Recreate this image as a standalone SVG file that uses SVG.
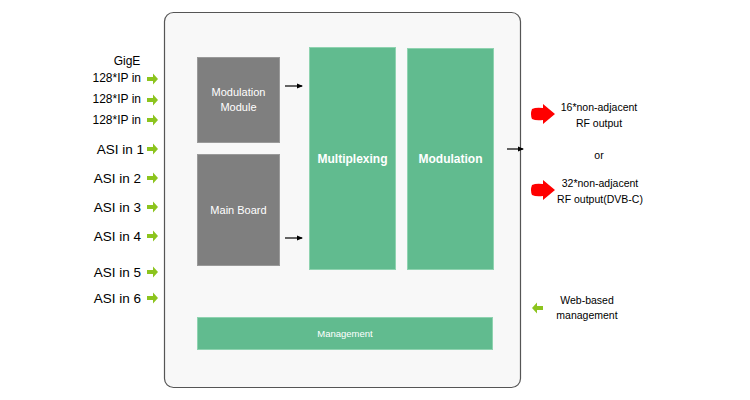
<svg xmlns="http://www.w3.org/2000/svg" width="750" height="400" viewBox="0 0 750 400">
<defs>
<style>
.t{font-family:"Liberation Sans",Arial,sans-serif;fill:#000}
.lbl{font-size:12px;text-anchor:end}
.asi{font-size:13.5px;text-anchor:end}
.wt{font-family:"Liberation Sans",Arial,sans-serif;fill:#fff;text-anchor:middle}
.gray{fill:#7f7f7f;stroke:#9a9a9a;stroke-width:1}
.grn{fill:#61bb8f;stroke:#8fd3b0;stroke-width:1}
.conn{stroke:#000;stroke-width:1.2;fill:none}
.rt{font-size:10.5px;text-anchor:middle}
</style>
<marker id="ah" markerWidth="6" markerHeight="6" refX="5" refY="3" orient="auto" markerUnits="userSpaceOnUse">
<path d="M0,0.5 L6,3 L0,5.5 Z" fill="#000"/>
</marker>
<path id="ga" d="M0,-2 L6,-2 L6,-5.5 L11,0 L6,5.5 L6,2 L0,2 Z" fill="#8cc41e"/>
<path id="ra" d="M1,-5 Q5,-7 12,-6 L12,-10 L24,0 L12,10 L12,6 Q5,7 1,5 Q-1,0 1,-5 Z" fill="#ff0000"/>
</defs>
<rect width="750" height="400" fill="#fff"/>
<g id="container">
<rect x="164.5" y="12.5" width="356" height="375" rx="9" ry="9" fill="#f8f8f8" stroke="#555" stroke-width="1.2"/>
</g>
<g id="inputs">
<text class="t" x="127" y="65" font-size="12" text-anchor="middle">GigE</text>
<text class="t lbl" x="141" y="82">128*IP  in</text>
<text class="t lbl" x="141" y="103">128*IP  in</text>
<text class="t lbl" x="141" y="124">128*IP in</text>
<text class="t asi" x="144" y="154">ASI in 1</text>
<text class="t asi" x="141" y="183">ASI in 2</text>
<text class="t asi" x="141" y="212">ASI in 3</text>
<text class="t asi" x="141" y="241">ASI in 4</text>
<text class="t asi" x="141" y="277">ASI in 5</text>
<text class="t asi" x="141" y="303">ASI in 6</text>
<use href="#ga" x="147" y="79"/>
<use href="#ga" x="147" y="100"/>
<use href="#ga" x="147" y="120"/>
<use href="#ga" x="147" y="149"/>
<use href="#ga" x="147" y="178"/>
<use href="#ga" x="147" y="207"/>
<use href="#ga" x="147" y="236"/>
<use href="#ga" x="147" y="272"/>
<use href="#ga" x="147" y="298"/>
</g>
<g id="modulation-module">
<rect class="gray" x="197.5" y="57.5" width="82" height="85"/>
<text class="wt" x="238.5" y="96" font-size="11">Modulation</text>
<text class="wt" x="238.5" y="111" font-size="11">Module</text>
</g>
<g id="main-board">
<rect class="gray" x="197.5" y="154.5" width="82" height="111"/>
<text class="wt" x="238.5" y="214" font-size="11">Main Board</text>
</g>
<g id="multiplexing">
<rect class="grn" x="309.5" y="47.5" width="86" height="222"/>
<text class="wt" x="352.5" y="163" font-size="12" font-weight="bold">Multiplexing</text>
</g>
<g id="modulation">
<rect class="grn" x="407.5" y="48.5" width="86" height="221"/>
<text class="wt" x="450.5" y="163" font-size="12" font-weight="bold">Modulation</text>
</g>
<g id="management">
<rect class="grn" x="197.5" y="317.5" width="295" height="32"/>
<text class="wt" x="345" y="337" font-size="9.5">Management</text>
</g>
<g id="connectors">
<line class="conn" x1="285" y1="86" x2="302" y2="86" marker-end="url(#ah)"/>
<line class="conn" x1="285" y1="238" x2="302" y2="238" marker-end="url(#ah)"/>
<line class="conn" x1="507" y1="149" x2="523" y2="149" marker-end="url(#ah)"/>
</g>
<g id="outputs">
<use href="#ra" x="531" y="114"/>
<use href="#ra" x="531" y="190"/>
<text class="t rt" x="599" y="111">16*non-adjacent</text>
<text class="t rt" x="599" y="127">RF output</text>
<text class="t rt" x="599" y="159">or</text>
<text class="t rt" x="600" y="187">32*non-adjacent</text>
<text class="t rt" x="600" y="203">RF output(DVB-C)</text>
</g>
<g id="web-management">
<use href="#ga" transform="translate(543,308) scale(-1,1)"/>
<text class="t rt" x="587" y="304">Web-based</text>
<text class="t rt" x="587" y="319">management</text>
</g>
</svg>
